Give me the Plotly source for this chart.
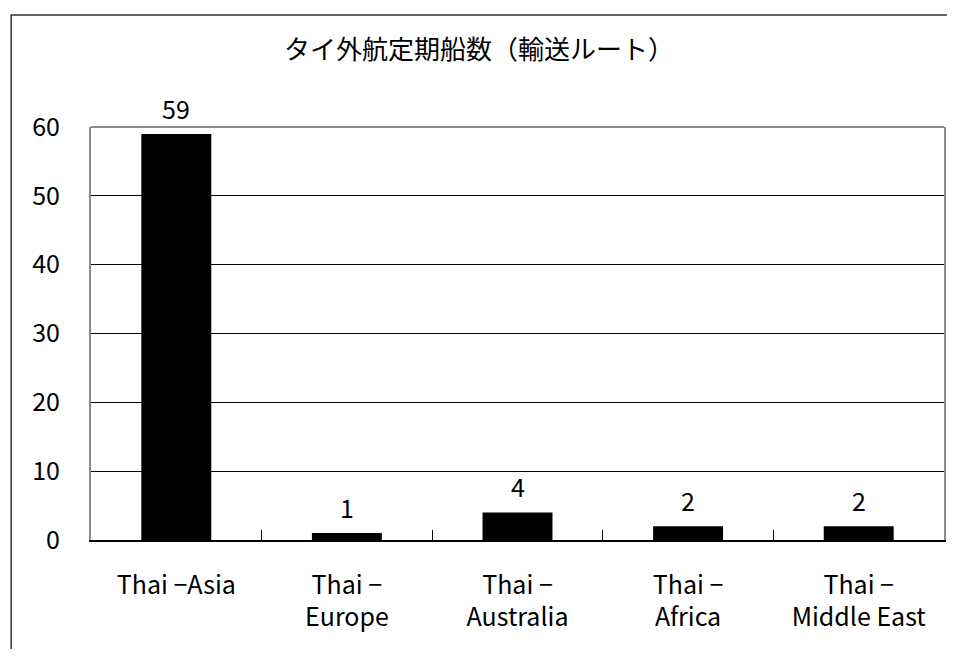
import plotly.graph_objects as go

categories = ["Thai −Asia", "Thai −<br>Europe", "Thai −<br>Australia", "Thai −<br>Africa", "Thai −<br>Middle East"]
values = [59, 1, 4, 2, 2]
y_ticks = [0, 10, 20, 30, 40, 50, 60]
title_text = "タイ外航定期船数（輸送ルート）"

# page has an 8px body margin; figure is sized to fit inside the window
OFF = 8
W, H = 939, 641
L = 91 - OFF
T = 127 - OFF
R = W - (946 - OFF)
B = H - (540 - OFF)
pw, ph = W - L - R, H - T - B

def px_x(p):
    return (p - OFF - L) / pw

def px_y(p):
    return (H - B - (p - OFF)) / ph

font_main = "Noto Sans CJK JP, Liberation Sans, Arial, sans-serif"
FS = 25

fig = go.Figure(go.Bar(
    x=categories, y=values,
    marker=dict(color="black", line=dict(width=0)),
    width=0.41,
    hoverinfo="x+y",
))

for c, v in zip(categories, values):
    fig.add_annotation(x=c, y=v, text=str(v), showarrow=False,
                       xref="x", yref="y", yanchor="bottom", yshift=6,
                       font=dict(size=FS, color="black", family=font_main))

fig.update_layout(
    width=W, height=H,
    margin=dict(l=L, r=R, t=T, b=B),
    paper_bgcolor="white", plot_bgcolor="white",
    showlegend=False,
    font=dict(family=font_main, color="black"),
    title=dict(text=title_text, x=px_x(480), xanchor="center", xref="paper",
               y=1 - (50 - OFF) / H, yanchor="middle",
               font=dict(size=26, color="black", family=font_main)),
)

fig.update_xaxes(
    showgrid=False, showline=True, linecolor="black", linewidth=1.5,
    ticks="inside", tickson="boundaries", ticklen=10, tickcolor="black", tickwidth=1,
    tickfont=dict(size=FS, color="black", family=font_main),
    ticklabelstandoff=22,
    fixedrange=True,
)
fig.update_yaxes(
    range=[0, 60], tickvals=y_ticks,
    showgrid=True, gridcolor="black", gridwidth=1,
    showline=True, linecolor="#8c8c8c", linewidth=2, mirror=True,
    zeroline=False,
    ticks="", tickfont=dict(size=FS, color="black", family=font_main),
    ticklabelstandoff=24,
    fixedrange=True,
)

shapes = [
    dict(type="line", xref="paper", yref="paper", x0=0, x1=1, y0=1, y1=1,
         line=dict(color="#8c8c8c", width=2)),
    dict(type="rect", xref="paper", yref="paper",
         x0=px_x(11), x1=px_x(975), y0=px_y(680), y1=px_y(15),
         line=dict(color="#333333", width=1.5)),
]
fig.update_layout(shapes=shapes)

fig.write_html("out.html")
